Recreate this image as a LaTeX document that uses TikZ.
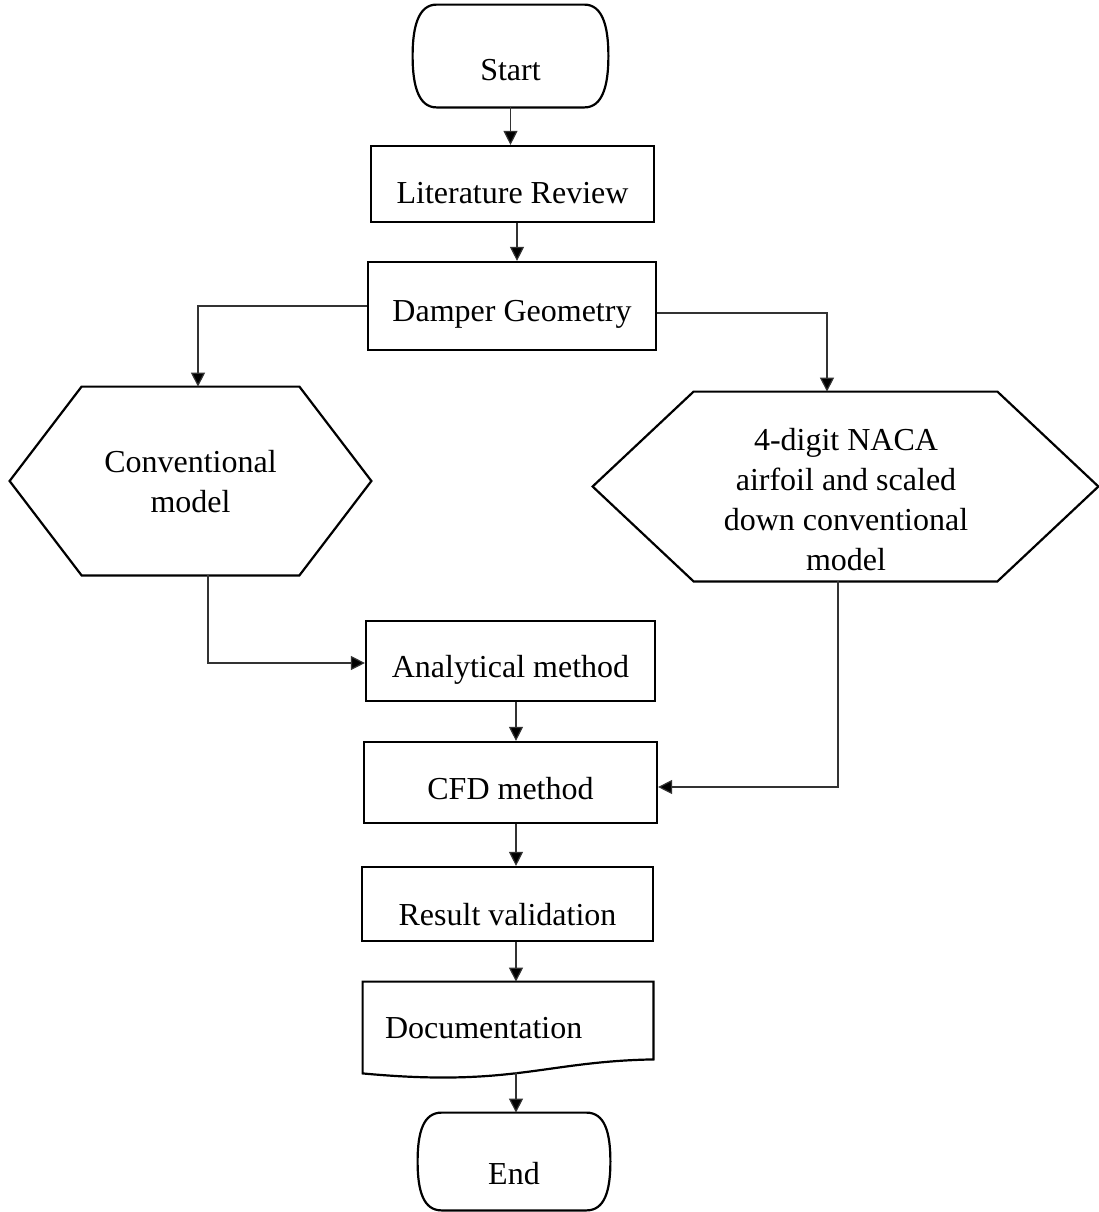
\documentclass[tikz,border=0pt]{standalone}
\usepackage{fontspec}
\setmainfont{Liberation Serif}
\usetikzlibrary{arrows.meta,calc}
\begin{document}
\begin{tikzpicture}[x=0.5pt,y=-0.5pt,
  font=\fontsize{16}{20}\selectfont,
  outline/.style={draw=black, line width=1.1pt, line join=miter},
  procbox/.style={outline, rectangle, inner sep=0pt, text depth=0pt},
  term/.style={rectangle, inner sep=0pt, text depth=0pt},
  hexnode/.style={rectangle, inner sep=0pt, draw=none},
  conn/.style={draw=black!80, line width=0.6pt, -{Triangle[width=7pt,length=7pt,fill=black]}},
]
\useasboundingbox (0,0) rectangle (1099,1212);

\node[term, minimum width=97.5pt, minimum height=51pt, text height=24pt] (start) at (510.5,56) {Start};
\draw[outline] ($(start.north west)+(24,0)$) -- ($(start.north east)+(-24,0)$)
  .. controls ($(start.north east)+(-6,0)$) and ($(start.east)+(0,-30)$) .. (start.east)
  .. controls ($(start.east)+(0,30)$) and ($(start.south east)+(-6,0)$) .. ($(start.south east)+(-24,0)$)
  -- ($(start.south west)+(24,0)$)
  .. controls ($(start.south west)+(6,0)$) and ($(start.west)+(0,30)$) .. (start.west)
  .. controls ($(start.west)+(0,-30)$) and ($(start.north west)+(6,0)$) .. ($(start.north west)+(24,0)$) -- cycle;

\node[procbox, minimum width=141.5pt, minimum height=38pt, text height=19pt] (lit) at (512.5,184) {Literature Review};
\node[procbox, minimum width=144pt, minimum height=44pt, text height=15pt] (damper) at (512,306) {Damper Geometry};

\node[hexnode, minimum width=180.5pt, minimum height=94pt] (conv) at (190.5,481) {};
\draw[outline] (conv.west) -- ([xshift=36pt]conv.north west) -- ([xshift=-36pt]conv.north east) -- (conv.east) -- ([xshift=-36pt]conv.south east) -- ([xshift=36pt]conv.south west) -- cycle;
\node[align=center] (convtxt) at (190.5,482) {Conventional\\model};

\node[hexnode, minimum width=252.5pt, minimum height=94.5pt] (naca) at (845.5,486.5) {};
\draw[outline] (naca.west) -- ([xshift=50.5pt]naca.north west) -- ([xshift=-50.5pt]naca.north east) -- (naca.east) -- ([xshift=-50.5pt]naca.south east) -- ([xshift=50.5pt]naca.south west) -- cycle;
\node[align=center] (nacatxt) at (846,500) {4-digit NACA\\airfoil and scaled\\down conventional\\model};

\node[procbox, minimum width=144.5pt, minimum height=40pt, text height=16pt] (anal) at (510.5,661) {Analytical method};
\node[procbox, minimum width=146.5pt, minimum height=40.5pt, text height=16.5pt] (cfd) at (510.5,782.5) {CFD method};
\node[procbox, minimum width=145.5pt, minimum height=37pt, text height=21pt] (res) at (507.5,904) {Result validation};

\node[rectangle, inner xsep=11pt, inner ysep=0pt, text width=123pt, align=left, minimum height=46.5pt, text height=9.5pt, text depth=0pt] (doc) at (508,1028.5) {Documentation};
\draw[outline] (doc.north west) -- (doc.north east) -- ($(doc.south east)+(0,-16)$)
  .. controls ($(doc.south east)+(-110,-14)$) and ($(doc.south west)+(150,12)$) .. ($(doc.south west)+(0,-2)$) -- cycle;

\node[term, minimum width=96pt, minimum height=48.5pt, text height=22.5pt] (end) at (514,1161.5) {End};
\draw[outline] ($(end.north west)+(24,0)$) -- ($(end.north east)+(-24,0)$)
  .. controls ($(end.north east)+(-6,0)$) and ($(end.east)+(0,-30)$) .. (end.east)
  .. controls ($(end.east)+(0,30)$) and ($(end.south east)+(-6,0)$) .. ($(end.south east)+(-24,0)$)
  -- ($(end.south west)+(24,0)$)
  .. controls ($(end.south west)+(6,0)$) and ($(end.west)+(0,30)$) .. (end.west)
  .. controls ($(end.west)+(0,-30)$) and ($(end.north west)+(6,0)$) .. ($(end.north west)+(24,0)$) -- cycle;

\draw[conn] (start.south) -- (start.south |- lit.north);
\draw[conn] ([xshift=2.25pt]lit.south) -- ([xshift=2.25pt]lit.south |- damper.north);
\draw[conn] (damper.west) -| ([xshift=3.75pt]conv.north);
\draw[conn] ([yshift=-3.5pt]damper.east) -| ([xshift=-9.25pt]naca.north);
\draw[conn] ([xshift=8.75pt]conv.south) |- ([yshift=-1pt]anal.west);
\draw[conn] ([xshift=2.75pt]anal.south) -- ([xshift=2.75pt]anal.south |- cfd.north);
\draw[conn] ([xshift=-3.75pt]naca.south) |- ([yshift=-2.25pt]cfd.east);
\draw[conn] ([xshift=2.75pt]cfd.south) -- ([xshift=2.75pt]cfd.south |- res.north);
\draw[conn] ([xshift=4.25pt]res.south) -- ([xshift=4.25pt]res.south |- doc.north);
\draw[conn] ([xshift=4pt,yshift=1.5pt]doc.south) -- ([xshift=4pt]doc.south |- end.north);
\end{tikzpicture}
\end{document}
